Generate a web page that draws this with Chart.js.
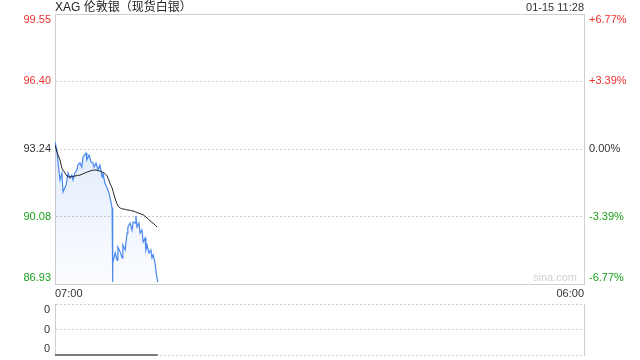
<!DOCTYPE html>
<html>
<head>
<meta charset="utf-8">
<script src="https://cdn.jsdelivr.net/npm/chart.js@4"></script>
<style>
  body { margin: 0; background: #fff; width: 640px; height: 360px; overflow: hidden; position: relative;
         font-family: "Liberation Sans", Arial, "Noto Sans CJK SC", sans-serif; }
  #title { position: absolute; left: 55px; top: 0px; font-size: 12px; color: #222; line-height: 14px; }
  #time { position: absolute; right: 56px; top: 0px; font-size: 11px; color: #333; line-height: 14px; }
  #mark { position: absolute; left: 533px; top: 271px; font-size: 11px; color: #d0d0d0; }
  #main { position: absolute; left: 0; top: 0; }
  #vol { position: absolute; left: 0; top: 300px; }
</style>
</head>
<body>
<canvas id="main" width="640" height="300"></canvas>
<canvas id="vol" width="640" height="60"></canvas>
<div id="title">XAG 伦敦银（现货白银）</div>
<div id="time">01-15 11:28</div>
<div id="mark">sina.com</div>
<script>
// minutes since 07:00
const priceMinutes = [0, 5, 8, 13, 18, 21, 29, 34, 39, 44, 47, 52, 57, 60, 65, 70, 73, 81, 83, 89, 94, 99, 102, 107, 112, 117, 123, 125, 130, 136, 141, 146, 149,
  150, 151, 157, 162, 164, 170, 175, 177, 183, 188, 190, 196, 201, 204, 209, 211, 214, 219, 222, 227, 230, 235, 237, 240, 245, 250, 253, 256, 261, 264, 268];
const prices = [93.57, 93.19, 92.59, 91.79, 92.12, 91.23, 91.56, 92.12, 91.88, 92.02, 91.79, 92.12, 92.26, 92.49, 92.59, 92.40, 92.87, 93.05, 92.73, 92.96, 92.63, 92.59, 92.40, 92.59, 92.26, 92.49, 91.93, 92.12, 91.65, 91.42, 91.18, 90.76, 90.48,
  87.02, 87.91, 88.38, 88.05, 88.66, 88.43, 88.15, 88.75, 88.52, 89.31, 89.59, 89.78, 89.45, 89.83, 89.78, 90.11, 89.59, 89.78, 89.31, 89.45, 88.89, 89.08, 88.52, 88.75, 88.38, 88.52, 88.15, 88.29, 87.91, 87.44, 87.02];

const avgMinutes = [0, 5, 13, 18, 26, 31, 39, 52, 65, 78, 91, 104, 117, 128, 136, 143, 149, 154, 159, 164, 170, 177, 190, 204, 217, 230, 240, 248, 258, 266];
const avgPrices = [93.43, 93.10, 92.73, 92.35, 92.12, 91.98, 91.93, 91.98, 92.02, 92.12, 92.21, 92.26, 92.21, 92.12, 91.98, 91.65, 91.42, 91.09, 90.81, 90.58, 90.48, 90.44, 90.39, 90.34, 90.25, 90.16, 90.02, 89.88, 89.74, 89.59];

const volMinutes = [0, 60, 120, 180, 240, 268];
const volumes = [0, 0, 0, 0, 0, 0];

const prevClose = 93.24;
const priceTicks = [86.93, 90.08, 93.24, 96.40, 99.55];
const timeTicks = [0, 1380];
const timeLabels = ['07:00', '06:00'];
const volTicks = [0, 0.5, 1];
const volTickLabels = ['0', '0', '0'];

const RED = '#f03030';
const GREEN = '#1aa01a';
const BLACK = '#333';
const FRAME = '#cfcfcf';

Chart.defaults.font.family = '"Liberation Sans", Arial, sans-serif';
Chart.defaults.font.size = 11;
Chart.defaults.color = BLACK;

function tickColor(ctx) {
  const v = ctx.tick ? ctx.tick.value : prevClose;
  if (v > prevClose + 1e-9) return RED;
  if (v < prevClose - 1e-9) return GREEN;
  return BLACK;
}
// push the edge labels inside the frame
function edgeLabel(text, index, count) {
  if (index === count - 1) return ['', text];
  if (index === 0) return [text, ''];
  return text;
}
function gridDash(ctx) {
  if (!ctx.tick) return [];
  const s = ctx.scale;
  if (ctx.tick.value === s.min || ctx.tick.value === s.max) return [];
  return [2, 2];
}
function fixWidth(w) {
  return (s) => { s.width = w; s.paddingTop = 0; s.paddingBottom = 0; };
}

const pricePts = priceMinutes.map((m, i) => ({ x: m, y: prices[i] }));
const avgPts = avgMinutes.map((m, i) => ({ x: m, y: avgPrices[i] }));

new Chart(document.getElementById('main').getContext('2d'), {
  type: 'line',
  data: {
    datasets: [{
      data: avgPts,
      borderColor: '#222',
      borderWidth: 1,
      pointRadius: 0,
      tension: 0.3,
      fill: false
    }, {
      data: pricePts,
      borderColor: '#4a88ee',
      borderWidth: 1.2,
      pointRadius: 0,
      tension: 0,
      fill: 'start',
      backgroundColor: (ctx) => {
        const area = ctx.chart.chartArea;
        if (!area) return 'rgba(74,136,238,0.1)';
        const g = ctx.chart.ctx.createLinearGradient(0, 140, 0, area.bottom);
        g.addColorStop(0, 'rgba(74,136,238,0.17)');
        g.addColorStop(1, 'rgba(74,136,238,0.02)');
        return g;
      }
    }]
  },
  options: {
    responsive: false,
    animation: false,
    devicePixelRatio: 1,
    layout: { padding: { top: 14, left: 0, right: 0, bottom: 0 } },
    plugins: { legend: { display: false }, tooltip: { enabled: false } },
    scales: {
      x: {
        type: 'linear',
        min: timeTicks[0],
        max: timeTicks[timeTicks.length - 1],
        afterBuildTicks: (s) => { s.ticks = timeTicks.map(v => ({ value: v })); },
        afterFit: (s) => { s.height = 16; s.paddingLeft = 0; s.paddingRight = 0; },
        grid: { display: false, drawTicks: false },
        border: { display: true, color: FRAME },
        ticks: {
          align: 'inner',
          autoSkip: false,
          maxRotation: 0,
          padding: 3,
          color: BLACK,
          callback: (v, i) => timeLabels[i]
        }
      },
      y: {
        position: 'left',
        min: priceTicks[0],
        max: priceTicks[priceTicks.length - 1],
        afterBuildTicks: (s) => { s.ticks = priceTicks.map(v => ({ value: v })); },
        afterFit: fixWidth(55),
        grid: { color: FRAME, drawTicks: false, lineWidth: 1 },
        border: { display: true, color: FRAME, dash: gridDash },
        ticks: {
          autoSkip: false,
          padding: 4,
          color: tickColor,
          font: { size: 11, lineHeight: 1.1 },
          callback: (v, i, t) => edgeLabel(v.toFixed(2), i, t.length)
        }
      },
      y1: {
        position: 'right',
        min: priceTicks[0],
        max: priceTicks[priceTicks.length - 1],
        afterBuildTicks: (s) => { s.ticks = priceTicks.map(v => ({ value: v })); },
        afterFit: fixWidth(56),
        grid: { display: false, drawTicks: false },
        border: { display: true, color: FRAME },
        ticks: {
          autoSkip: false,
          padding: 5,
          color: tickColor,
          font: { size: 11, lineHeight: 1.1 },
          callback: (v, i, t) => {
            const p = (v / prevClose - 1) * 100;
            const txt = (p > 0.005 ? '+' : '') + (Math.abs(p) < 0.005 ? '0.00' : p.toFixed(2)) + '%';
            return edgeLabel(txt, i, t.length);
          }
        }
      }
    }
  }
});

new Chart(document.getElementById('vol').getContext('2d'), {
  type: 'line',
  data: {
    datasets: [{
      data: volMinutes.map((m, i) => ({ x: m, y: volumes[i] })),
      borderColor: '#555',
      borderWidth: 1.5,
      pointRadius: 0,
      clip: false,
      fill: false
    }]
  },
  options: {
    responsive: false,
    animation: false,
    devicePixelRatio: 1,
    layout: { padding: { top: 4, left: 0, right: 56, bottom: 5 } },
    plugins: { legend: { display: false }, tooltip: { enabled: false } },
    scales: {
      x: {
        type: 'linear',
        min: timeTicks[0],
        max: timeTicks[timeTicks.length - 1],
        display: false
      },
      y: {
        position: 'left',
        min: volTicks[0],
        max: volTicks[volTicks.length - 1],
        afterBuildTicks: (s) => { s.ticks = volTicks.map(v => ({ value: v })); },
        afterFit: fixWidth(55),
        grid: { color: FRAME, drawTicks: false },
        border: { display: true, color: FRAME, dash: [2, 2] },
        ticks: {
          autoSkip: false,
          padding: 5,
          color: BLACK,
          font: { size: 11, lineHeight: 1.1 },
          callback: (v, i, t) => edgeLabel(volTickLabels[i], i, t.length)
        }
      },
      yr: {
        position: 'right',
        min: volTicks[0],
        max: volTicks[volTicks.length - 1],
        afterFit: fixWidth(0),
        grid: { display: false, drawTicks: false },
        border: { display: true, color: FRAME },
        ticks: { display: false }
      }
    }
  }
});
</script>
</body>
</html>
